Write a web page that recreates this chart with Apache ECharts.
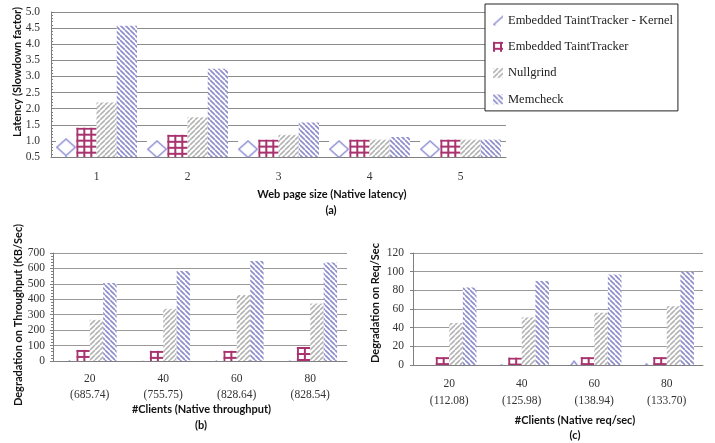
<!DOCTYPE html>
<html><head><meta charset="utf-8">
<script src="https://cdn.jsdelivr.net/npm/echarts@6/dist/echarts.min.js"></script>
<style>html,body{margin:0;padding:0;background:#fff}#c{width:715px;height:443px}</style>
</head><body><div id="c"></div>
<script>
// ---- data ----
const seriesNames = ['Embedded TaintTracker - Kernel','Embedded TaintTracker','Nullgrind','Memcheck'];

const categoriesA = ['1','2','3','4','5'];
const kernelA = [1.08, 1.02, 1.02, 1.02, 1.02];
const taintA  = [1.41, 1.19, 1.04, 1.04, 1.04];
const nullA   = [2.19, 1.73, 1.19, 1.04, 1.04];
const memA    = [4.57, 3.24, 1.57, 1.12, 1.04];
const ticksA  = {min: 0.5, max: 5.0, interval: 0.5};

const categoriesB = ['20','40','60','80'];
const nativeB = ['685.74','755.75','828.64','828.54'];
const kernelB = [5, 2, 4, 4];
const taintB  = [72, 66, 66, 91];
const nullB   = [267, 338, 428, 372];
const memB    = [505, 583, 648, 638];
const ticksB  = {min: 0, max: 700, interval: 100};

const categoriesC = ['20','40','60','80'];
const nativeC = ['112.08','125.98','138.94','133.70'];
const kernelC = [0, 1, 5, 2];
const taintC  = [8.5, 8, 8.5, 8.5];
const nullC   = [45, 51, 56, 63];
const memC    = [83, 90, 97, 100];
const ticksC  = {min: 0, max: 120, interval: 20};

// ---- patterns ----
function tileCanvas(w, h, draw){
  const c = document.createElement('canvas'); c.width = w; c.height = h;
  const g = c.getContext('2d'); g.fillStyle = '#fff'; g.fillRect(0,0,w,h); draw(g,w,h);
  return c;
}
function drawDiamond(g,w,h){
  g.strokeStyle = '#8f8fd6'; g.lineWidth = 1.5; g.beginPath();
  g.moveTo(0.75,h/2); g.lineTo(w/2,0.75); g.lineTo(w-0.75,h/2); g.lineTo(w/2,h-0.75); g.closePath(); g.stroke();
}
function drawGrid(g,w,h){ g.fillStyle = '#a8336e'; g.fillRect(0,0,2,h); g.fillRect(0,0,w,2); }
const patKernel = {image: tileCanvas(20, 18, drawDiamond), repeat: 'repeat'};
const patTaint = {image: tileCanvas(7, 6, drawGrid), repeat: 'repeat'};
const patNull = {image: tileCanvas(5, 5, (g,w,h)=>{
  g.strokeStyle = '#b4b4b4'; g.lineWidth = 1.6; g.beginPath();
  for (const k of [-w,0,w]) { g.moveTo(k+w,0); g.lineTo(k,h); }
  g.stroke();
}), repeat: 'repeat'};
const patMem = {image: tileCanvas(5, 5, (g,w,h)=>{
  g.strokeStyle = '#8e8ecc'; g.lineWidth = 1.7; g.beginPath();
  for (const k of [-w,0,w]) { g.moveTo(k,0); g.lineTo(k+w,h); }
  g.stroke();
}), repeat: 'repeat'};
const patterns = [patKernel, patTaint, patNull, patMem];

const serif = 'Liberation Serif';
const sans = 'Lato';
const axisCol = '#7f7f7f';

const chart = echarts.init(document.getElementById('c'), null, {renderer: 'canvas'});

function bars(idx, arrays, gap){
  return arrays.map((d, i) => ({
    name: seriesNames[i], type: 'bar', xAxisIndex: idx, yAxisIndex: idx, data: d,
    barGap: '0%', barCategoryGap: gap, clip: true,
    itemStyle: {color: patterns[i]}, emphasis: {disabled: true}
  }));
}

function label(x, y, text, rot){
  return {type: 'text', x: x, y: y, rotation: rot ? Math.PI/2 : 0,
    style: {text: text, font: 'bold 11px ' + sans, fill: '#111', align: 'center', verticalAlign: 'middle'}};
}

const allData = [[kernelA, taintA, nullA, memA],[kernelB, taintB, nullB, memB],[kernelC, taintC, nullC, memC]];

const option = {
  animation: false,
  backgroundColor: '#fff',
  legend: {
    data: seriesNames, orient: 'vertical', left: 485, top: 4,
    padding: [10, 5, 5, 8], itemGap: 13.3, itemWidth: 10, itemHeight: 10, icon: 'rect',
    borderColor: '#222', borderWidth: 1, backgroundColor: '#fff',
    textStyle: {fontFamily: serif, fontSize: 12.5, color: '#222'},
    selectedMode: false
  },
  grid: [
    {left: 51, top: 12, width: 455, height: 145},
    {left: 53, top: 253, width: 294, height: 108},
    {left: 413, top: 253, width: 290, height: 112}
  ],
  xAxis: [
    {gridIndex: 0, type: 'category', data: categoriesA,
     axisLine: {lineStyle: {color: axisCol}}, axisTick: {show: false},
     axisLabel: {margin: 14, fontFamily: serif, fontSize: 11.5, color: '#333'}},
    {gridIndex: 1, type: 'category', data: categoriesB,
     axisLine: {lineStyle: {color: axisCol}}, axisTick: {length: 4, lineStyle: {color: axisCol}},
     axisLabel: {margin: 10, fontFamily: serif, fontSize: 11.5, color: '#333', lineHeight: 16,
       formatter: (v, i) => v + '\n(' + nativeB[i] + ')'}},
    {gridIndex: 2, type: 'category', data: categoriesC,
     axisLine: {lineStyle: {color: axisCol}}, axisTick: {length: 4, lineStyle: {color: axisCol}},
     axisLabel: {margin: 11, fontFamily: serif, fontSize: 11.5, color: '#333', lineHeight: 16.4,
       formatter: (v, i) => v + '\n(' + nativeC[i] + ')'}}
  ],
  yAxis: [
    {gridIndex: 0, type: 'value', min: ticksA.min, max: ticksA.max, interval: ticksA.interval,
     axisLine: {show: true, lineStyle: {color: axisCol}},
     axisTick: {show: true, inside: true, length: 3, lineStyle: {color: axisCol}},
     minorTick: {show: true, splitNumber: 5, length: 2, lineStyle: {color: axisCol}},
     splitLine: {lineStyle: {color: '#8c8c8c'}},
     axisLabel: {margin: 11, fontFamily: serif, fontSize: 11.5, color: '#333', formatter: v => v.toFixed(1)}},
    {gridIndex: 1, type: 'value', min: ticksB.min, max: ticksB.max, interval: ticksB.interval,
     axisLine: {show: true, lineStyle: {color: axisCol}},
     axisTick: {show: true, length: 3, lineStyle: {color: axisCol}},
     minorTick: {show: true, splitNumber: 5, length: 2, lineStyle: {color: axisCol}},
     splitLine: {lineStyle: {color: '#999'}},
     axisLabel: {margin: 8, fontFamily: serif, fontSize: 11.5, color: '#333'}},
    {gridIndex: 2, type: 'value', min: ticksC.min, max: ticksC.max, interval: ticksC.interval,
     axisLine: {show: true, lineStyle: {color: axisCol}},
     axisTick: {show: true, length: 3, lineStyle: {color: axisCol}},
     splitLine: {lineStyle: {color: '#999'}},
     axisLabel: {margin: 9, fontFamily: serif, fontSize: 11.5, color: '#333'}}
  ],
  series: [].concat(
    bars(0, allData[0], '11%'),
    bars(1, allData[1], '27%'),
    bars(2, allData[2], '25%')
  ),
  graphic: [
    label(17, 72, 'Latency (Slowdown factor)', true),
    label(332, 194, 'Web page size (Native latency)'),
    label(331, 210, '(a)'),
    label(18, 315, 'Degradation on Throughput (KB/Sec)', true),
    label(201.5, 409, '#Clients (Native throughput)'),
    label(201, 425, '(b)'),
    label(375.5, 303, 'Degradation on Req/Sec', true),
    label(575, 420, '#Clients (Native req/sec)'),
    label(575, 435.5, '(c)')
  ]
};
chart.setOption(option);

// Anchor the diamond and grid patterns to each bar's own top-left corner (from the library's layout)
const model = chart.getModel();
const updates = option.series.map(() => ({}));
option.series.forEach((s, si) => {
  const kind = si % 4;
  if (kind > 1) return;
  const data = model.getSeriesByIndex(si).getData();
  const values = allData[Math.floor(si / 4)][kind];
  updates[si] = {data: values.map((v, i) => {
    const L = data.getItemLayout(i);
    const top = L.y + Math.min(0, L.height);
    let img;
    if (kind === 0) {
      img = tileCanvas(Math.max(4, Math.round(L.width)), 18, drawDiamond);
    } else {
      img = patTaint.image;
    }
    return {value: v, itemStyle: {color: {image: img, repeat: 'repeat', x: L.x, y: top}}};
  })};
});
chart.setOption({series: updates});
</script></body></html>
